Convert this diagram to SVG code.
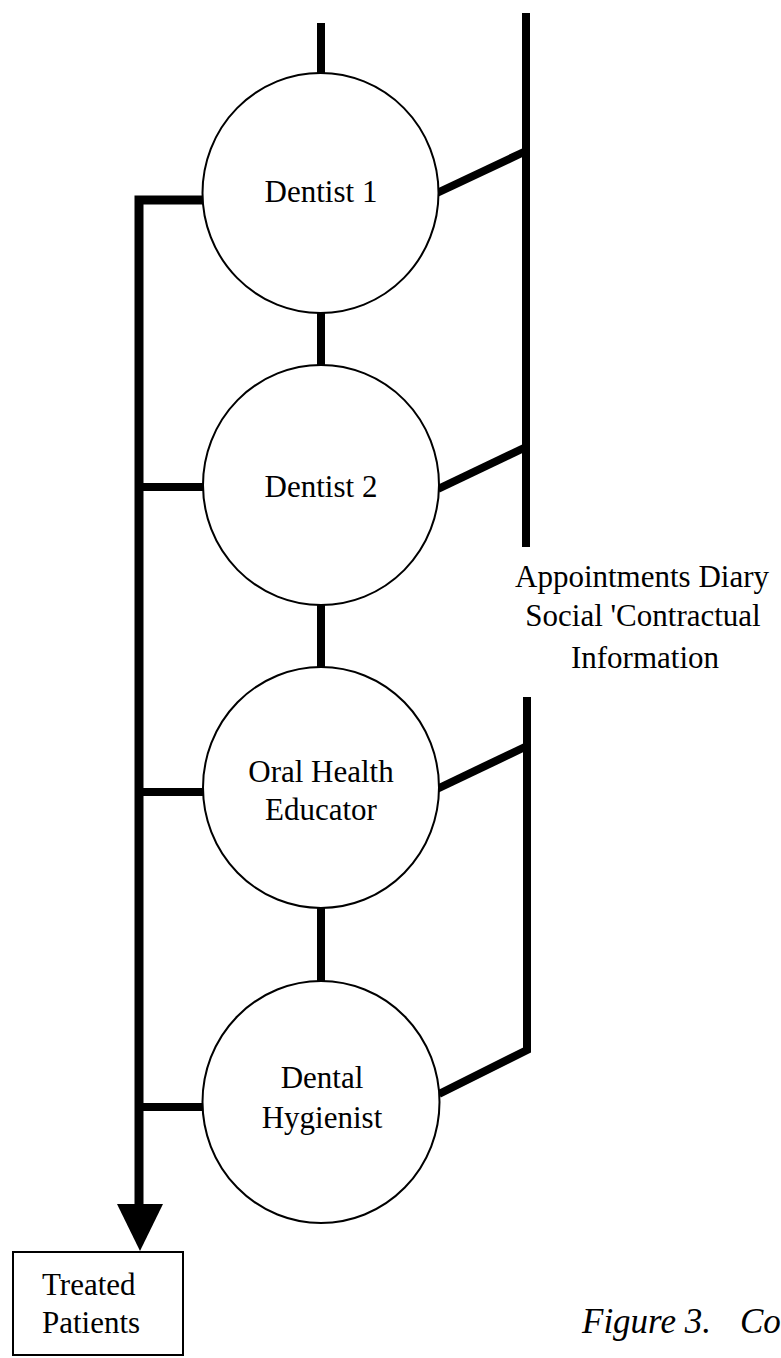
<svg xmlns="http://www.w3.org/2000/svg" width="781" height="1358" viewBox="0 0 781 1358">
  <style>
    .bg { fill: #ffffff; }
    .node { fill: #ffffff; stroke: #000000; stroke-width: 2; }
    .label { font-family: "Liberation Serif", "Times New Roman", serif; font-size: 31px; fill: #000000; text-anchor: middle; }
    .side { font-family: "Liberation Serif", "Times New Roman", serif; font-size: 31px; fill: #000000; text-anchor: middle; }
    .caption { font-family: "Liberation Serif", "Times New Roman", serif; font-size: 35px; font-style: italic; fill: #000000; }
    .wire { fill: none; stroke: #000000; stroke-width: 8; stroke-linejoin: miter; }
    .trunk { fill: none; stroke: #000000; stroke-width: 9; stroke-linejoin: miter; }
  </style>
  <rect class="bg" x="0" y="0" width="781" height="1358"/>

  <!-- connectors -->
  <g id="connectors">
    <!-- vertical links along the chain of staff -->
    <line class="wire" x1="321" y1="23" x2="321" y2="74" stroke-width="7"/>
    <line class="wire" x1="321" y1="312" x2="321" y2="366" stroke-width="7"/>
    <line class="wire" x1="321" y1="604" x2="321" y2="668" stroke-width="7"/>
    <line class="wire" x1="321" y1="907" x2="321" y2="982" stroke-width="7"/>

    <!-- left output trunk with branches -->
    <path class="trunk" d="M204,200 H139 V1206"/>
    <line class="wire" x1="139" y1="487" x2="204" y2="487" stroke-width="9"/>
    <line class="wire" x1="139" y1="792" x2="204" y2="792" stroke-width="9"/>
    <line class="wire" x1="139" y1="1107" x2="204" y2="1107" stroke-width="9"/>
    <polygon points="117,1204 163,1204 140,1251" fill="#000000"/>

    <!-- right information bus, upper section -->
    <line class="wire" x1="526" y1="13" x2="526" y2="547"/>
    <line class="wire" x1="437" y1="193" x2="526" y2="151" stroke-width="9"/>
    <line class="wire" x1="438" y1="489" x2="526" y2="447" stroke-width="9"/>

    <!-- right information bus, lower section -->
    <path class="wire" d="M527,697 V1050 L439,1094"/>
    <line class="wire" x1="437" y1="789" x2="527" y2="746" stroke-width="9"/>
  </g>

  <!-- staff nodes -->
  <g id="dentist1">
    <ellipse class="node" cx="320.5" cy="193" rx="118" ry="120"/>
    <text class="label" x="321" y="202">Dentist 1</text>
  </g>
  <g id="dentist2">
    <ellipse class="node" cx="321" cy="485" rx="118" ry="120"/>
    <text class="label" x="321" y="497">Dentist 2</text>
  </g>
  <g id="oral-health-educator">
    <ellipse class="node" cx="321" cy="787.5" rx="118" ry="120.5"/>
    <text class="label" x="321" y="782">Oral Health</text>
    <text class="label" x="321" y="820">Educator</text>
  </g>
  <g id="dental-hygienist">
    <ellipse class="node" cx="321" cy="1102" rx="118.5" ry="121"/>
    <text class="label" x="322" y="1088">Dental</text>
    <text class="label" x="322" y="1128">Hygienist</text>
  </g>

  <!-- outcome box -->
  <g id="treated-patients">
    <rect class="node" x="13" y="1252" width="170" height="103"/>
    <text class="label" x="42" y="1295" style="text-anchor:start">Treated</text>
    <text class="label" x="42" y="1333" style="text-anchor:start">Patients</text>
  </g>

  <!-- information source label -->
  <g id="information">
    <text class="side" x="642" y="587">Appointments Diary</text>
    <text class="side" x="643" y="626">Social 'Contractual</text>
    <text class="side" x="645" y="668">Information</text>
  </g>

  <!-- figure caption, running off the right edge -->
  <g id="caption">
    <text class="caption" x="582" y="1333">Figure 3.<tspan x="740">Co</tspan></text>
  </g>
</svg>
